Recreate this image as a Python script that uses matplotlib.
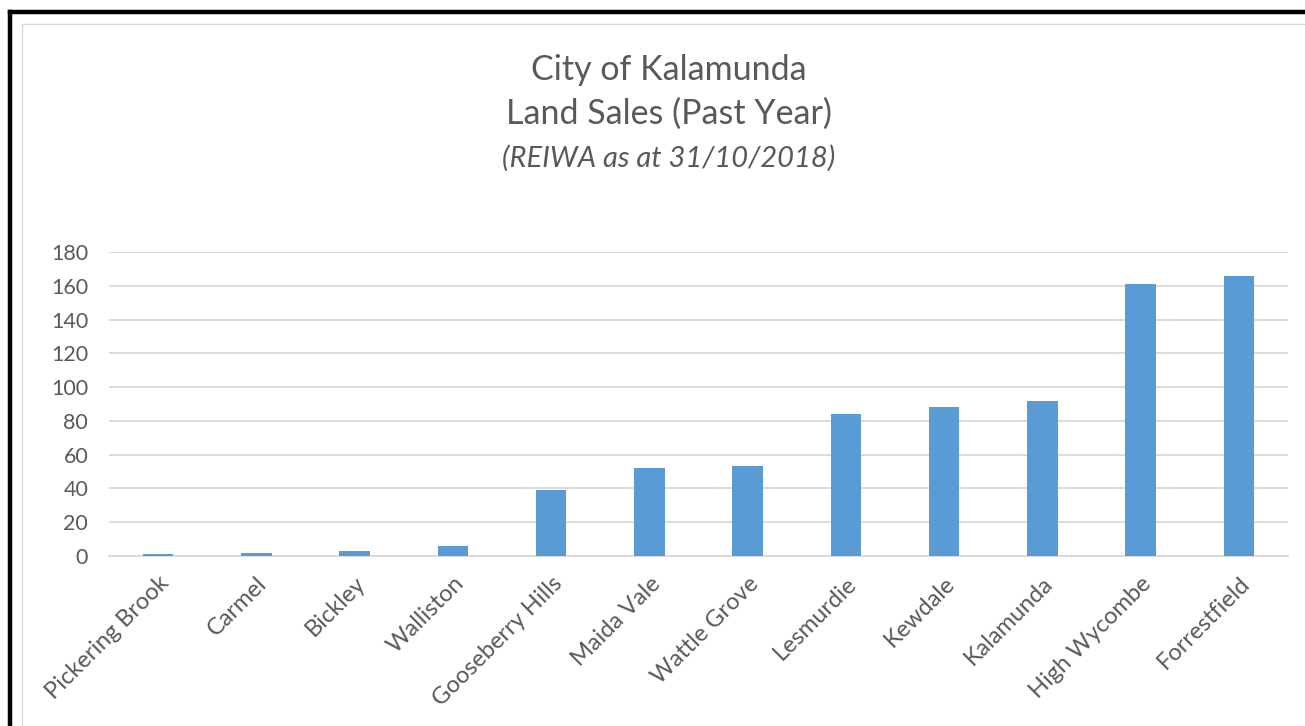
import matplotlib
matplotlib.use("Agg")
import matplotlib.pyplot as plt
from matplotlib.lines import Line2D

categories = ["Pickering Brook", "Carmel", "Bickley", "Walliston", "Gooseberry Hills",
              "Maida Vale", "Wattle Grove", "Lesmurdie", "Kewdale", "Kalamunda",
              "High Wycombe", "Forrestfield"]
sales = [1, 2, 3, 6, 39, 52, 53, 84, 88, 92, 161, 166]
yticks = [0, 20, 40, 60, 80, 100, 120, 140, 160, 180]

W, H = 1305, 726
fig = plt.figure(figsize=(W / 100, H / 100), dpi=100)
fig.patch.set_facecolor("white")
plt.rcParams['font.family'] = ['Lato', 'DejaVu Sans']

text_col = "#595959"

# outer black frame (top and left) and light grey chart border
fig.add_artist(Line2D([10 / W, 1], [1 - 12 / H, 1 - 12 / H], color="black", lw=3.2, transform=fig.transFigure))
fig.add_artist(Line2D([10 / W, 10 / W], [0, 1 - 12 / H], color="black", lw=3.2, transform=fig.transFigure))
fig.add_artist(Line2D([22 / W, 1], [1 - 24 / H, 1 - 24 / H], color="#d9d9d9", lw=1.0, transform=fig.transFigure))
fig.add_artist(Line2D([22 / W, 22 / W], [0, 1 - 24 / H], color="#d9d9d9", lw=1.0, transform=fig.transFigure))

left, right = 109 / W, 1288 / W
bottom, top = 1 - 556 / H, 1 - 252 / H
ax = fig.add_axes([left, bottom, right - left, top - bottom])
x = list(range(len(categories)))
ax.bar(x, sales, width=0.31, color="#5b9bd5", zorder=3)
ax.set_xlim(-0.5, len(categories) - 0.5)
ax.set_ylim(0, 180)
ax.set_yticks(yticks)
ax.set_yticklabels([str(v) for v in yticks], fontsize=15.5, color=text_col)
ax.yaxis.grid(True, color="#d9d9d9", lw=1.3, zorder=0)
ax.set_xticks(x)
ax.set_xticklabels(categories, rotation=45, ha="right", rotation_mode="anchor",
                   fontsize=17, color=text_col)
for s in ["top", "right", "left"]:
    ax.spines[s].set_visible(False)
ax.spines["bottom"].set_color("#d9d9d9")
ax.spines["bottom"].set_linewidth(1.3)
ax.tick_params(axis="both", length=0)
ax.tick_params(axis="y", pad=15)
ax.tick_params(axis="x", pad=12)

fig.text(669 / W, 1 - 70 / H, "City of Kalamunda", ha="center", va="center", fontsize=24.5, color=text_col)
fig.text(669 / W, 1 - 114 / H, "Land Sales (Past Year)", ha="center", va="center", fontsize=24.5, color=text_col)
fig.text(669 / W, 1 - 158 / H, "(REIWA as at 31/10/2018)", ha="center", va="center", fontsize=21,
         style="italic", color=text_col)

fig.savefig("out.png", dpi=100, facecolor="white")
